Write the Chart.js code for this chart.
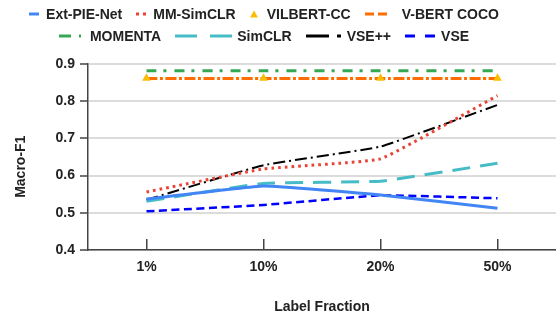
<!DOCTYPE html>
<html>
<head>
<meta charset="utf-8">
<script src="https://cdn.jsdelivr.net/npm/chart.js@4"></script>
<style>
  body { margin: 0; background: #fff; }
  #wrap { position: relative; width: 556px; height: 316px; }
  canvas#chart { display: block; }
  #legend { position: absolute; top: 3px; left: 0; width: 528px;
            font: bold 14px "Liberation Sans", Arial, sans-serif; color: #222; }
  .row { display: flex; justify-content: center; align-items: center; height: 22px; }
  .item { display: flex; align-items: center; margin: 0 7px; white-space: nowrap; }
</style>
</head>
<body>
<div id="wrap">
  <canvas id="chart" width="556" height="316"></canvas>
  <div id="legend"></div>
</div>
<script>
// Data
const categories = ['1%', '10%', '20%', '50%'];
const extPieNet = [0.537, 0.572, 0.548, 0.512];
const mmSimclr  = [0.556, 0.618, 0.645, 0.815];
const vilbertCc = [0.862, 0.862, 0.862, 0.862];
const vbertCoco = [0.861, 0.861, 0.861, 0.861];
const momenta   = [0.882, 0.882, 0.882, 0.882];
const simclr    = [0.531, 0.579, 0.585, 0.633];
const vsePlus   = [0.535, 0.628, 0.678, 0.790];
const vse       = [0.504, 0.521, 0.547, 0.539];
const yMin = 0.4, yMax = 0.9, yStep = 0.1;

const FONT = '"Liberation Sans", Arial, sans-serif';
const TEXT = '#222';
const AXIS = '#444';

// series styles
const series = [
  { label: 'Ext-PIE-Net', data: extPieNet, color: '#4285F4', width: 3, dash: [] },
  { label: 'MM-SimCLR', data: mmSimclr, color: '#EA4335', width: 3, dash: [2.7, 4] },
  { label: 'VILBERT-CC', data: vilbertCc, color: '#FBBC04', width: 0, dash: [], marker: true },
  { label: 'V-BERT COCO', data: vbertCoco, color: '#FF6D01', width: 3, dash: [11, 2.5, 3, 2.5] },
  { label: 'MOMENTA', data: momenta, color: '#34A853', width: 3, dash: [10, 7, 3, 8] },
  { label: 'SimCLR', data: simclr, color: '#46BDC6', width: 3, dash: [18, 10] },
  { label: 'VSE++', data: vsePlus, color: '#000000', width: 2, dash: [12, 4, 2, 4] },
  { label: 'VSE', data: vse, color: '#0000FF', width: 2.5, dash: [8, 4.5] }
];

// legend sample shapes (width, dash, gap to text)
const legendIcons = [
  { w: 10, dash: [], gap: 7 },
  { w: 10, dash: [3, 4], gap: 7 },
  { w: 8, tri: true, gap: 9 },
  { w: 22, dash: [9, 4], gap: 15 },
  { w: 22, dash: [12, 8, 2, 100], gap: 9 },
  { w: 57, dash: [22, 13], gap: 5 },
  { w: 35, dash: [23, 8, 4, 100], gap: 6 },
  { w: 30, dash: [10, 10], gap: 6 }
];

// html legend, two rows
const legendEl = document.getElementById('legend');
[[0, 1, 2, 3], [4, 5, 6, 7]].forEach(idx => {
  const row = document.createElement('div');
  row.className = 'row';
  idx.forEach(i => {
    const s = series[i], ic = legendIcons[i];
    const item = document.createElement('div');
    item.className = 'item';
    const cv = document.createElement('canvas');
    cv.width = ic.w; cv.height = 8;
    cv.style.marginRight = ic.gap + 'px';
    const c = cv.getContext('2d');
    if (ic.tri) {
      c.fillStyle = s.color;
      c.beginPath(); c.moveTo(ic.w / 2, 0.5); c.lineTo(ic.w, 7.5); c.lineTo(0, 7.5); c.closePath(); c.fill();
    } else {
      c.strokeStyle = s.color; c.lineWidth = 3; c.setLineDash(ic.dash);
      c.beginPath(); c.moveTo(0, 4); c.lineTo(ic.w, 4); c.stroke();
    }
    const span = document.createElement('span');
    span.textContent = s.label;
    item.appendChild(cv); item.appendChild(span);
    row.appendChild(item);
  });
  legendEl.appendChild(row);
});

const datasets = series.map(s => ({
  label: s.label,
  data: s.data,
  borderColor: s.color,
  backgroundColor: s.color,
  borderWidth: s.width,
  borderDash: s.dash,
  borderCapStyle: 'butt',
  tension: 0.1,
  showLine: !s.marker,
  pointRadius: s.marker ? 5 : 0,
  pointStyle: 'triangle',
  pointBorderWidth: 0,
  fill: false
}));

const ctx = document.getElementById('chart').getContext('2d');
new Chart(ctx, {
  type: 'line',
  data: { labels: categories, datasets: datasets },
  options: {
    responsive: false,
    devicePixelRatio: 1,
    animation: false,
    layout: { autoPadding: false, padding: { top: 64, right: 0, left: 0, bottom: 0 } },
    plugins: { legend: { display: false }, tooltip: { enabled: false } },
    scales: {
      x: {
        offset: true,
        afterFit: scale => { scale.height = 66; scale.paddingLeft = 0; scale.paddingRight = 0; },
        grid: { offset: false, drawOnChartArea: false, tickLength: -11, color: AXIS, lineWidth: 1.5 },
        border: { color: AXIS, width: 1.5 },
        ticks: { padding: 20, color: TEXT, font: { family: FONT, size: 14, weight: 'bold' } },
        title: { display: true, text: 'Label Fraction', color: TEXT,
                 font: { family: FONT, size: 14, weight: 'bold' }, padding: { bottom: 0 } }
      },
      y: {
        min: yMin, max: yMax,
        afterFit: scale => { scale.width = 88; },
        grid: { color: '#dcdcdc', lineWidth: 2, tickLength: 8, tickColor: AXIS, tickWidth: 1.5 },
        border: { color: AXIS, width: 1.5 },
        ticks: { stepSize: yStep, padding: 5, color: TEXT,
                 font: { family: FONT, size: 14, weight: 'bold' },
                 callback: v => v.toFixed(1) },
        title: { display: true, text: 'Macro-F1     ', color: TEXT,
                 font: { family: FONT, size: 14, weight: 'bold' }, padding: { top: 13 } }
      }
    }
  }
});
</script>
</body>
</html>
